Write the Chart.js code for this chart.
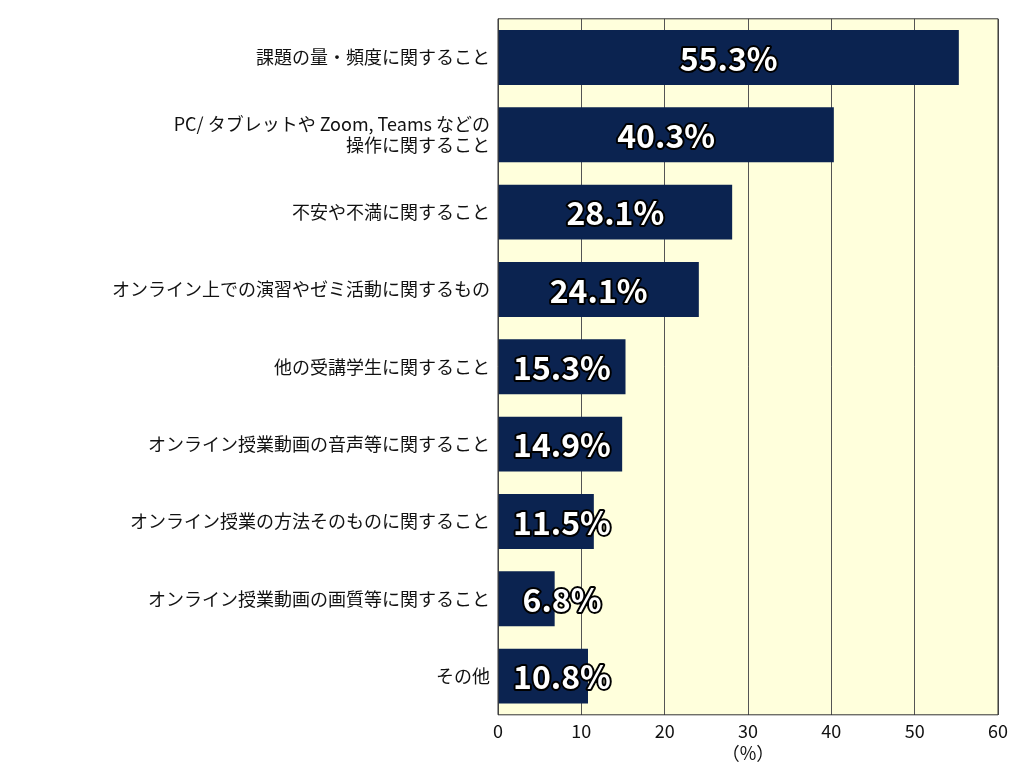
<!DOCTYPE html>
<html><head><meta charset="utf-8">
<script src="https://cdn.jsdelivr.net/npm/chart.js@4"></script>
<style>html,body{margin:0;background:#fff}</style>
</head><body><canvas id="c" width="1024" height="768"></canvas>
<script>
const categories = [
  "課題の量・頻度に関すること",
  ["PC/ タブレットや Zoom, Teams などの", "操作に関すること"],
  "不安や不満に関すること",
  "オンライン上での演習やゼミ活動に関するもの",
  "他の受講学生に関すること",
  "オンライン授業動画の音声等に関すること",
  "オンライン授業の方法そのものに関すること",
  "オンライン授業動画の画質等に関すること",
  "その他"
];
const values = [55.3, 40.3, 28.1, 24.1, 15.3, 14.9, 11.5, 6.8, 10.8];
const xTicks = [0, 10, 20, 30, 40, 50, 60];
const FONT = "'Noto Sans CJK JP', 'Noto Sans', sans-serif";

const bgPlugin = {
  id: 'bg',
  beforeDraw(chart) {
    const {ctx, chartArea: a} = chart;
    ctx.save(); ctx.fillStyle = '#ffffdc';
    ctx.fillRect(a.left, a.top, a.width, a.height); ctx.restore();
  },
  afterDatasetsDraw(chart) {
    const {ctx, chartArea: a} = chart;
    const meta = chart.getDatasetMeta(0);
    ctx.save();
    ctx.font = "bold 32px " + FONT;
    ctx.textAlign = 'center'; ctx.textBaseline = 'middle';
    ctx.lineJoin = 'round';
    meta.data.forEach((bar, i) => {
      const cx = Math.max((bar.base + bar.x) / 2, a.left + 64);
      const t = values[i].toFixed(1) + '%';
      ctx.lineWidth = 4; ctx.strokeStyle = '#000';
      ctx.strokeText(t, cx, bar.y + 1);
      ctx.fillStyle = '#fff'; ctx.fillText(t, cx, bar.y + 1);
    });
    ctx.strokeStyle = '#333'; ctx.lineWidth = 1;
    ctx.strokeRect(a.left, a.top, a.width, a.height);
    ctx.restore();
  }
};

new Chart(document.getElementById('c'), {
  type: 'bar',
  data: { labels: categories, datasets: [{
    data: values, backgroundColor: '#0b2350',
    borderWidth: 0, categoryPercentage: 1, barPercentage: 0.71 }] },
  options: {
    indexAxis: 'y', responsive: false, animation: false,
    devicePixelRatio: 1,
    layout: { padding: { top: 5, right: 26, bottom: 0, left: 0 } },
    plugins: { legend: { display: false }, tooltip: { enabled: false } },
    scales: {
      x: { min: 0, max: 60, afterBuildTicks: ax => { ax.ticks = xTicks.map(v => ({value: v})); },
        grid: { color: '#555', drawTicks: false, lineWidth: 1 },
        border: { display: false },
        ticks: { color: '#111', maxRotation: 0, font: { size: 18, family: FONT }, padding: 6 },
        title: { display: true, text: '（%）', color: '#111', font: { size: 18, family: FONT }, padding: { top: -6, bottom: 4 } } },
      y: { afterFit: s => { s.width = 498; },
        grid: { display: false, drawTicks: false }, border: { display: false },
        ticks: { color: '#111', font: { size: 18, family: FONT }, padding: 8 } }
    }
  },
  plugins: [bgPlugin]
});
</script>
</body></html>
